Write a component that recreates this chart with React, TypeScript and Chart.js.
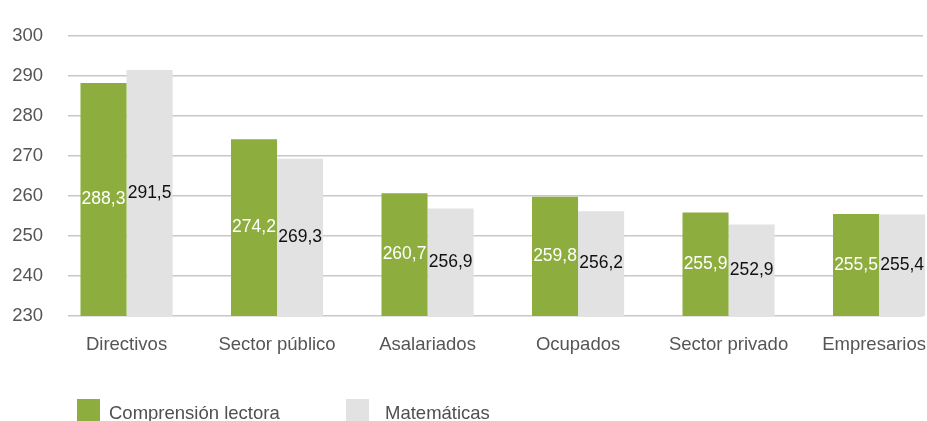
import React, { useEffect, useRef } from "react";
import { Chart, registerables } from "chart.js";

Chart.register(...registerables);

const categories = ["Directivos", "Sector público", "Asalariados", "Ocupados", "Sector privado", "Empresarios"];
const lectora = [288.3, 274.2, 260.7, 259.8, 255.9, 255.5];
const matematicas = [291.5, 269.3, 256.9, 256.2, 252.9, 255.4];
const seriesNames = ["Comprensión lectora", "Matemáticas"];
const yTicks = [230, 240, 250, 260, 270, 280, 290, 300];

const GREEN = "#8dae3e";
const GREY = "#e2e2e2";
const FONT = "'Liberation Sans', Arial, Helvetica, sans-serif";

const fmt = (v: number) => v.toFixed(1).replace(".", ",");

const labelsPlugin = {
  id: "customLabels",
  afterDatasetsDraw(chart: any) {
    const ctx = chart.ctx;
    const area = chart.chartArea;
    ctx.save();
    ctx.font = `17.5px ${FONT}`;
    ctx.textAlign = "center";
    ctx.textBaseline = "middle";
    chart.data.datasets.forEach((ds: any, di: number) => {
      const meta = chart.getDatasetMeta(di);
      meta.data.forEach((bar: any, i: number) => {
        const v = ds.data[i].y;
        ctx.fillStyle = di === 0 ? "#ffffff" : "#111111";
        ctx.fillText(fmt(v), bar.x, (bar.y + area.bottom) / 2);
      });
    });
    // category labels (kept inside the canvas)
    const xs = chart.scales.x;
    ctx.font = `18.5px ${FONT}`;
    ctx.fillStyle = "#555555";
    categories.forEach((c, i) => {
      const w = ctx.measureText(c).width;
      let x = xs.getPixelForValue(i);
      x = Math.min(x, chart.width - w / 2 - 1);
      ctx.fillText(c, x, area.bottom + 29);
    });
    // legend
    const ly = area.bottom + 98;
    ctx.textAlign = "left";
    const items = [
      { name: seriesNames[0], color: GREEN, x: 77 },
      { name: seriesNames[1], color: GREY, x: 346 },
    ];
    items.forEach((it, k) => {
      ctx.fillStyle = it.color;
      ctx.fillRect(it.x, ly - 15, 23, 30);
      ctx.fillStyle = "#505050";
      ctx.fillText(it.name, it.x + (k === 0 ? 32 : 39), ly);
    });
    ctx.restore();
  },
};

export default function App() {
  const ref = useRef<HTMLCanvasElement | null>(null);
  useEffect(() => {
    if (!ref.current) return;
    const clip = { left: 0, top: 0, right: 10, bottom: 0 };
    const chart = new Chart(ref.current, {
      type: "bar",
      data: {
        datasets: [
          {
            label: seriesNames[0],
            data: lectora.map((v, i) => ({ x: i, y: v })),
            backgroundColor: GREEN,
            clip: clip as any,
          },
          {
            label: seriesNames[1],
            data: matematicas.map((v, i) => ({ x: i, y: v })),
            backgroundColor: GREY,
            clip: clip as any,
          },
        ],
      },
      options: {
        animation: false,
        responsive: false,
        maintainAspectRatio: false,
        layout: { padding: { top: 30, right: 4, bottom: 97, left: 0 } },
        datasets: { bar: { categoryPercentage: 0.612, barPercentage: 1 } },
        plugins: { legend: { display: false }, tooltip: { enabled: false } },
        scales: {
          x: {
            type: "linear",
            offset: false,
            min: -0.389,
            max: 5.292,
            bounds: "data",
            afterBuildTicks: (s: any) => {
              s.ticks = categories.map((_, i) => ({ value: i }));
            },
            ticks: { display: false },
            grid: { display: false, offset: false },
            border: { display: false },
          },
          y: {
            min: 230,
            max: 300,
            afterBuildTicks: (s: any) => {
              s.ticks = yTicks.map((v) => ({ value: v }));
            },
            afterFit: (s: any) => {
              s.width = 68;
            },
            ticks: {
              padding: 25,
              color: "#555555",
              font: { family: FONT, size: 18.5 },
            },
            grid: { color: "#c8c8c8", lineWidth: 1.5, drawTicks: false },
            border: { display: false },
          },
        },
      },
      plugins: [labelsPlugin],
    });
    return () => chart.destroy();
  }, []);
  return (
    <div style={{ position: "absolute", left: 0, top: 0, width: 927, height: 421, background: "#fff" }}>
      <canvas ref={ref} width={927} height={421} style={{ width: 927, height: 421 }} />
    </div>
  );
}
